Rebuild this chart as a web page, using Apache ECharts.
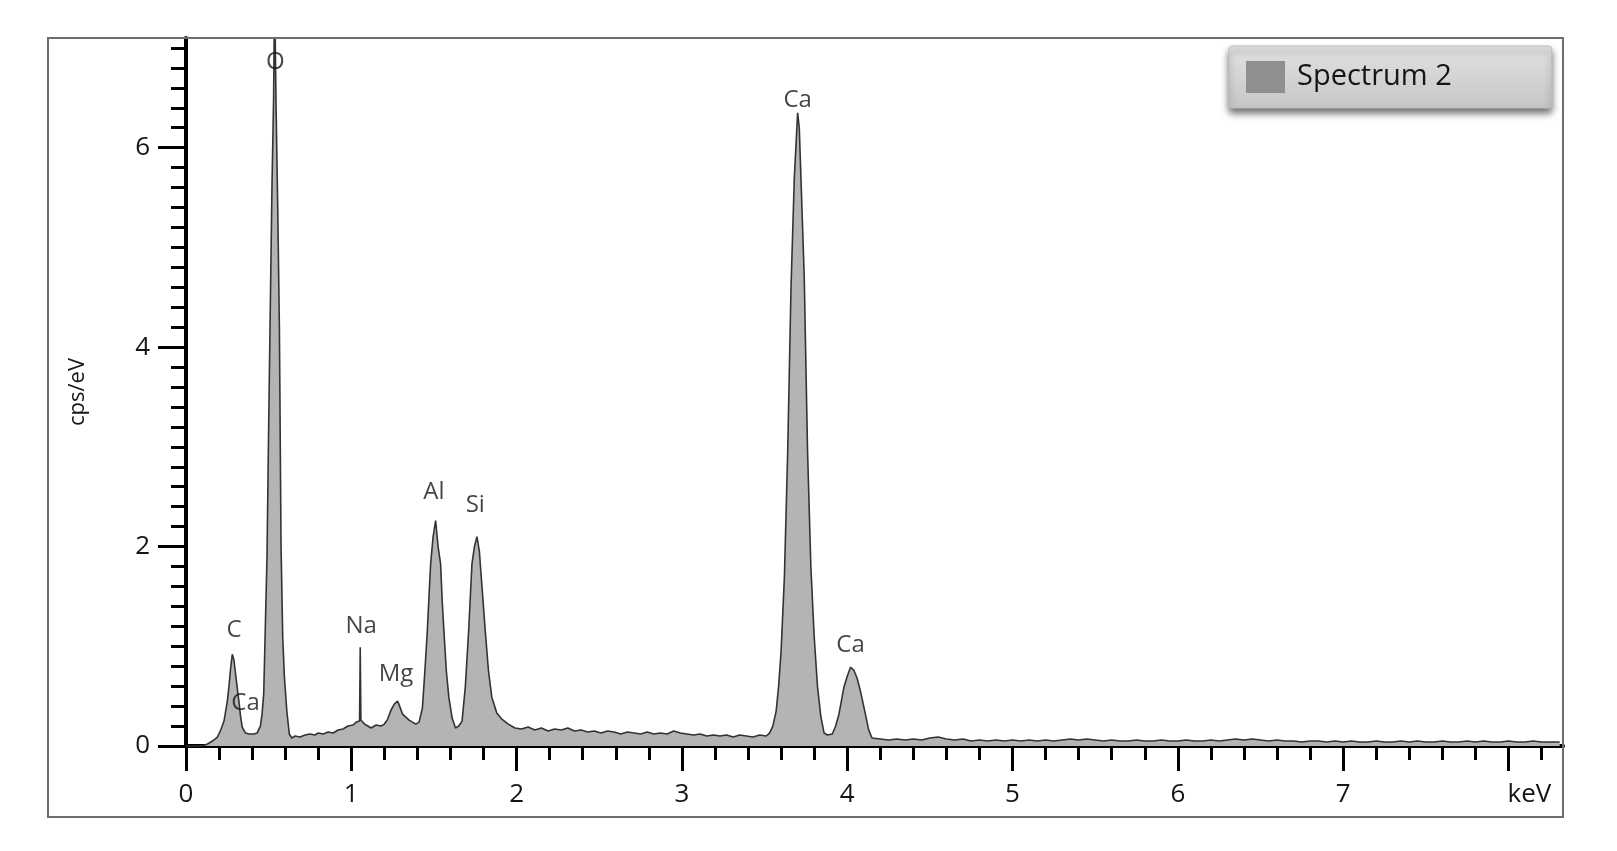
<!DOCTYPE html>
<html>
<head>
<meta charset="utf-8">
<title>Spectrum 2</title>
<script src="https://cdn.jsdelivr.net/npm/echarts@6/dist/echarts.min.js"></script>
<style>
  html, body { margin: 0; padding: 0; background: #fff; }
  #chart { width: 1617px; height: 851px; }
</style>
</head>
<body>
<div id="chart"></div>
<script>
// [keV, cps/eV], split by region
const lowEnergy = [
  [0.00, 0], [0.10, 0], [0.13, 0.02], [0.16, 0.05], [0.19, 0.09], [0.21, 0.16], [0.23, 0.25],
  [0.25, 0.45], [0.26, 0.6], [0.27, 0.78], [0.28, 0.92], [0.29, 0.86], [0.30, 0.72], [0.31, 0.58],
  [0.32, 0.45], [0.33, 0.3], [0.34, 0.19], [0.36, 0.13], [0.38, 0.12], [0.41, 0.12], [0.43, 0.13],
  [0.45, 0.2], [0.46, 0.32], [0.47, 0.52], [0.48, 1.2], [0.49, 1.9], [0.50, 3.2], [0.51, 4.4],
  [0.52, 5.6], [0.53, 6.5], [0.536, 7.6], [0.545, 6.4], [0.555, 5.4], [0.565, 4.2], [0.575, 2.0],
  [0.585, 1.1], [0.595, 0.7], [0.61, 0.35], [0.625, 0.12], [0.64, 0.08], [0.66, 0.1], [0.69, 0.09],
  [0.72, 0.11], [0.75, 0.12], [0.78, 0.11], [0.80, 0.13], [0.83, 0.12], [0.86, 0.14], [0.89, 0.13],
  [0.92, 0.16], [0.95, 0.17], [0.98, 0.2], [1.01, 0.21], [1.03, 0.24], [1.05, 0.25], [1.054, 0.99],
  [1.058, 0.26], [1.08, 0.22], [1.10, 0.2], [1.12, 0.18], [1.15, 0.21], [1.18, 0.2], [1.20, 0.22],
  [1.22, 0.27], [1.24, 0.36], [1.26, 0.42], [1.28, 0.45], [1.29, 0.41], [1.31, 0.32], [1.33, 0.29],
  [1.35, 0.26], [1.37, 0.24], [1.39, 0.22], [1.41, 0.24], [1.43, 0.38], [1.445, 0.75], [1.46, 1.16],
  [1.47, 1.5], [1.48, 1.83], [1.495, 2.1], [1.51, 2.26], [1.525, 2.0], [1.54, 1.83], [1.55, 1.45],
  [1.56, 1.16], [1.575, 0.75], [1.59, 0.49], [1.61, 0.28], [1.63, 0.18], [1.65, 0.2], [1.67, 0.25],
  [1.69, 0.6], [1.71, 1.16], [1.73, 1.83], [1.745, 2.0], [1.76, 2.1], [1.775, 1.95], [1.78, 1.83],
  [1.795, 1.5], [1.81, 1.16], [1.83, 0.75], [1.85, 0.49], [1.88, 0.33], [1.91, 0.27], [1.95, 0.22],
  [1.99, 0.18]
]
const midBaseline = [
  [2.03, 0.17], [2.07, 0.19], [2.11, 0.16], [2.15, 0.18], [2.19, 0.15], [2.23, 0.17], [2.27, 0.16],
  [2.31, 0.18], [2.35, 0.15], [2.39, 0.16], [2.43, 0.14], [2.47, 0.15], [2.51, 0.13], [2.55, 0.15],
  [2.59, 0.14], [2.63, 0.12], [2.67, 0.14], [2.71, 0.13], [2.75, 0.12], [2.79, 0.14], [2.83, 0.12],
  [2.87, 0.13], [2.91, 0.12], [2.95, 0.15], [2.99, 0.13], [3.03, 0.12], [3.07, 0.11], [3.11, 0.12],
  [3.15, 0.10], [3.19, 0.11], [3.23, 0.10], [3.27, 0.11], [3.31, 0.09], [3.35, 0.11], [3.39, 0.10],
  [3.43, 0.09], [3.47, 0.11], [3.51, 0.10], [3.53, 0.13]
]
const caRegion = [
  [3.55, 0.2], [3.57, 0.35], [3.585, 0.6], [3.60, 0.95], [3.62, 1.7], [3.64, 2.96], [3.66, 4.6],
  [3.68, 5.7], [3.70, 6.35], [3.71, 6.2], [3.72, 5.7], [3.74, 4.7], [3.76, 2.96], [3.78, 1.8],
  [3.80, 1.1], [3.82, 0.6], [3.84, 0.3], [3.86, 0.13], [3.88, 0.11], [3.91, 0.12], [3.93, 0.2],
  [3.95, 0.32], [3.98, 0.59], [4.00, 0.7], [4.02, 0.79], [4.04, 0.76], [4.06, 0.68], [4.08, 0.55],
  [4.11, 0.32], [4.13, 0.16], [4.15, 0.08]
]
const tail = [
  [4.2, 0.07], [4.25, 0.06], [4.3, 0.07], [4.35, 0.06], [4.4, 0.07], [4.45, 0.06], [4.5, 0.08],
  [4.55, 0.09], [4.6, 0.07], [4.65, 0.06], [4.7, 0.07], [4.75, 0.05], [4.8, 0.06], [4.85, 0.05],
  [4.9, 0.06], [4.95, 0.05], [5.0, 0.06], [5.05, 0.05], [5.1, 0.06], [5.15, 0.05], [5.2, 0.06],
  [5.25, 0.05], [5.3, 0.06], [5.35, 0.07], [5.4, 0.06], [5.45, 0.07], [5.5, 0.06], [5.55, 0.05],
  [5.6, 0.06], [5.65, 0.05], [5.7, 0.05], [5.75, 0.06], [5.8, 0.05], [5.85, 0.05], [5.9, 0.06],
  [5.95, 0.05], [6.0, 0.05], [6.05, 0.06], [6.1, 0.05], [6.15, 0.05], [6.2, 0.06], [6.25, 0.05],
  [6.3, 0.06], [6.35, 0.07], [6.4, 0.06], [6.45, 0.07], [6.5, 0.06], [6.55, 0.05], [6.6, 0.06],
  [6.65, 0.05], [6.7, 0.05], [6.75, 0.04], [6.8, 0.05], [6.85, 0.05], [6.9, 0.04], [6.95, 0.05],
  [7.0, 0.04], [7.05, 0.05], [7.1, 0.04], [7.15, 0.04], [7.2, 0.05], [7.25, 0.04], [7.3, 0.04],
  [7.35, 0.05], [7.4, 0.04], [7.45, 0.05], [7.5, 0.04], [7.55, 0.04], [7.6, 0.05], [7.65, 0.04],
  [7.7, 0.04], [7.75, 0.05], [7.8, 0.04], [7.85, 0.05], [7.9, 0.04], [7.95, 0.04], [8.0, 0.05],
  [8.05, 0.04], [8.1, 0.04], [8.15, 0.05], [8.2, 0.04], [8.25, 0.04], [8.31, 0.04]
]

// element markers: name and where its text sits (keV, cps/eV)
const peakNames = ['C', 'Ca', 'O', 'Na', 'Mg', 'Al', 'Si', 'Ca', 'Ca']
const peakLabelPos = [
  [0.29, 1.16], [0.36, 0.43], [0.54, 6.86], [1.06, 1.2], [1.27, 0.72],
  [1.50, 2.55], [1.75, 2.42], [3.70, 6.48], [4.02, 1.01]
]

const xTicks = [0, 1, 2, 3, 4, 5, 6, 7, 8]
const xTickLabels = ['0', '1', '2', '3', '4', '5', '6', '7', 'keV']
const yTicks = [0, 2, 4, 6]

const spectrum = lowEnergy.concat(midBaseline, caRegion, tail)
const labelData = peakNames.map((n, i) => [peakLabelPos[i][0], peakLabelPos[i][1], n])

const FONT = 'Open Sans'
const TEXT = '#151515'
const chart = echarts.init(document.getElementById('chart'))

const option = {
  backgroundColor: '#fff',
  animation: false,
  grid: { left: 186, right: 54, top: 38, bottom: 105 },
  legend: {
    left: 1229,
    top: 46,
    orient: 'horizontal',
    icon: 'rect',
    itemWidth: 39,
    itemHeight: 32,
    padding: [15, 100, 15, 17],
    backgroundColor: new echarts.graphic.LinearGradient(0, 0, 0, 1, [
      { offset: 0, color: '#e2e2e2' },
      { offset: 1, color: '#c6c6c6' }
    ]),
    borderColor: '#bdbdbd',
    borderWidth: 1,
    borderRadius: 3,
    shadowColor: 'rgba(0,0,0,0.55)',
    shadowBlur: 7,
    shadowOffsetY: 5,
    textStyle: { fontFamily: FONT, fontSize: 29, color: TEXT, padding: [5, 0, 0, 7] },
    selectedMode: false,
    data: [{ name: 'Spectrum 2', itemStyle: { color: '#8f8f8f' } }]
  },
  xAxis: {
    type: 'value',
    min: 0,
    max: 8.33,
    interval: 1,
    splitLine: { show: false },
    axisLine: { lineStyle: { color: '#000', width: 4 } },
    axisTick: {
      customValues: xTicks,
      length: 25,
      lineStyle: { color: '#000', width: 3 }
    },
    minorTick: {
      show: true,
      splitNumber: 5,
      length: 14,
      lineStyle: { color: '#000', width: 3 }
    },
    axisLabel: {
      customValues: xTicks,
      margin: 36,
      fontFamily: FONT,
      fontSize: 26,
      color: TEXT,
      formatter: function (v) {
        const t = xTickLabels[xTicks.indexOf(v)]
        return v === 8 ? '{k|' + t + '}' : t
      },
      rich: { k: { fontFamily: FONT, fontSize: 26, color: TEXT, padding: [0, 0, 0, 42] } }
    }
  },
  yAxis: {
    type: 'value',
    min: 0,
    max: 7.1,
    interval: 2,
    name: 'cps/eV',
    nameLocation: 'middle',
    nameRotate: 90,
    nameGap: 97,
    nameTextStyle: { fontFamily: FONT, fontSize: 22, color: TEXT },
    splitLine: { show: false },
    axisLine: { lineStyle: { color: '#000', width: 4 } },
    axisTick: {
      customValues: yTicks,
      length: 28,
      lineStyle: { color: '#000', width: 3 }
    },
    minorTick: {
      show: true,
      splitNumber: 10,
      length: 15,
      lineStyle: { color: '#000', width: 3 }
    },
    axisLabel: {
      customValues: yTicks,
      margin: 36,
      fontFamily: FONT,
      fontSize: 26,
      color: TEXT
    }
  },
  graphic: [
    {
      type: 'rect',
      z: 100,
      silent: true,
      shape: { x: 48, y: 38, width: 1515, height: 779 },
      style: { fill: 'none', stroke: '#6e6e6e', lineWidth: 2 }
    }
  ],
  series: [
    {
      name: 'Spectrum 2',
      type: 'line',
      data: spectrum,
      showSymbol: false,
      symbol: 'none',
      clip: true,
      color: '#8f8f8f',
      lineStyle: { color: '#333', width: 1.6 },
      areaStyle: { color: '#b4b4b4', opacity: 1 },
      emphasis: { disabled: true },
      silent: true,
      z: 2
    },
    {
      type: 'scatter',
      data: labelData,
      symbolSize: 0,
      silent: true,
      z: 5,
      label: {
        show: true,
        position: 'inside',
        fontFamily: FONT,
        fontSize: 24,
        color: TEXT,
        formatter: function (p) { return p.data[2] }
      }
    }
  ]
}
chart.setOption(option)
</script>
</body>
</html>
